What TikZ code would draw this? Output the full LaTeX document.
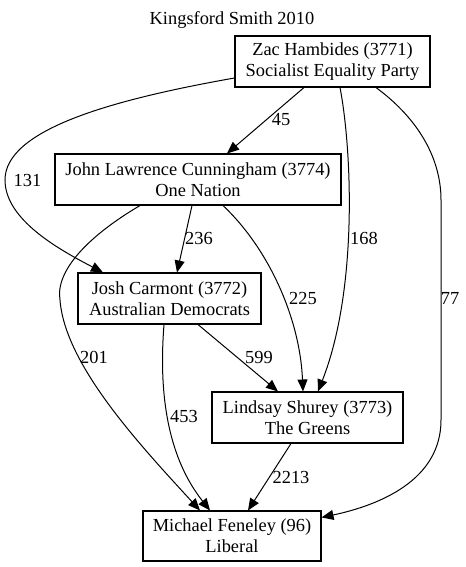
\documentclass[tikz,border=0pt]{standalone}
\usepackage{fontspec}
\setmainfont{Liberation Serif}
\usetikzlibrary{arrows.meta,calc}
\tikzset{
  box/.style={draw, line width=0.8pt, rectangle, align=center, inner sep=0pt, minimum height=38.25pt},
  edge/.style={line width=0.75pt, -{Triangle[length=9pt,width=7.5pt]}},
  lbl/.style={inner sep=0pt, font=\fontsize{13.8}{15.5}\selectfont}
}
\begin{document}
\begin{tikzpicture}[x=0.75pt, y=-0.75pt, font=\fontsize{13.8}{15.5}\selectfont]
\useasboundingbox (0,0) rectangle (465,567);
\node[lbl] (title) at (232,20) {Kingsford Smith 2010};
\node[box, minimum width=146.25pt] (zac) at (332.5,61.5) {Zac Hambides (3771)\\Socialist Equality Party};
\node[box, minimum width=214.5pt] (john) at (198,179.5) {John Lawrence Cunningham (3774)\\One Nation};
\node[box, minimum width=137.25pt] (josh) at (169.5,298.5) {Josh Carmont (3772)\\Australian Democrats};
\node[box, minimum width=143.25pt] (lindsay) at (307.5,417.5) {Lindsay Shurey (3773)\\The Greens};
\node[box, minimum width=133.5pt, minimum height=37.5pt] (michael) at (232,536) {Michael Feneley (96)\\Liberal};

% Zac -> John
\draw[edge] ($(zac.south)+(-28.5,0)$) -- ($(john.north)+(29,0)$);
\node[lbl] (l45) at (281,120) {45};
% Zac -> Josh
\draw[edge] ($(zac.west)+(0,16.5)$) .. controls (110,100) and (5,130) .. (5,180)
  .. controls (5,220) and (60,250) .. ($(josh.north)+(-66.5,0)$);
\node[lbl] (l131) at (27.5,180) {131};
% Zac -> Lindsay
\draw[edge] ($(zac.south)+(7.5,0)$) .. controls (352,150) and (358,290) .. ($(lindsay.north)+(10.5,0)$);
\node[lbl] (l168) at (364,238) {168};
% Zac -> Michael
\draw[edge] ($(zac.south)+(43.5,0)$) .. controls (420,120) and (441,160) .. (441,200) -- (441,420)
  .. controls (441,480) and (380,505) .. ($(michael.north east)+(0,7)$);
\node[lbl] (l77) at (450,298) {77};
% John -> Josh
\draw[edge] ($(john.south)+(-6,0)$) -- ($(josh.north)+(7.5,0)$);
\node[lbl] (l236) at (199,238) {236};
% John -> Lindsay
\draw[edge] ($(john.south)+(25,0)$) .. controls (270,250) and (300,320) .. ($(lindsay.north)+(-4.5,0)$);
\node[lbl] (l225) at (303,298) {225};
% John -> Michael
\draw[edge] ($(john.south)+(-58,0)$) .. controls (90,235) and (55,270) .. (60,300)
  .. controls (65,365) and (140,445) .. ($(michael.north)+(-32,0)$);
\node[lbl] (l201) at (94,357) {201};
% Josh -> Lindsay
\draw[edge] ($(josh.south)+(28.5,0)$) -- ($(lindsay.north)+(-29.5,0)$);
\node[lbl] (l599) at (259,357) {599};
% Josh -> Michael
\draw[edge] ($(josh.south)+(-5.5,0)$) .. controls (158,400) and (170,460) .. ($(michael.north)+(-22,0)$);
\node[lbl] (l453) at (184,416) {453};
% Lindsay -> Michael
\draw[edge] ($(lindsay.south)+(-16.5,0)$) -- ($(michael.north)+(16,0)$);
\node[lbl] (l2213) at (291,477) {2213};
\end{tikzpicture}
\end{document}
